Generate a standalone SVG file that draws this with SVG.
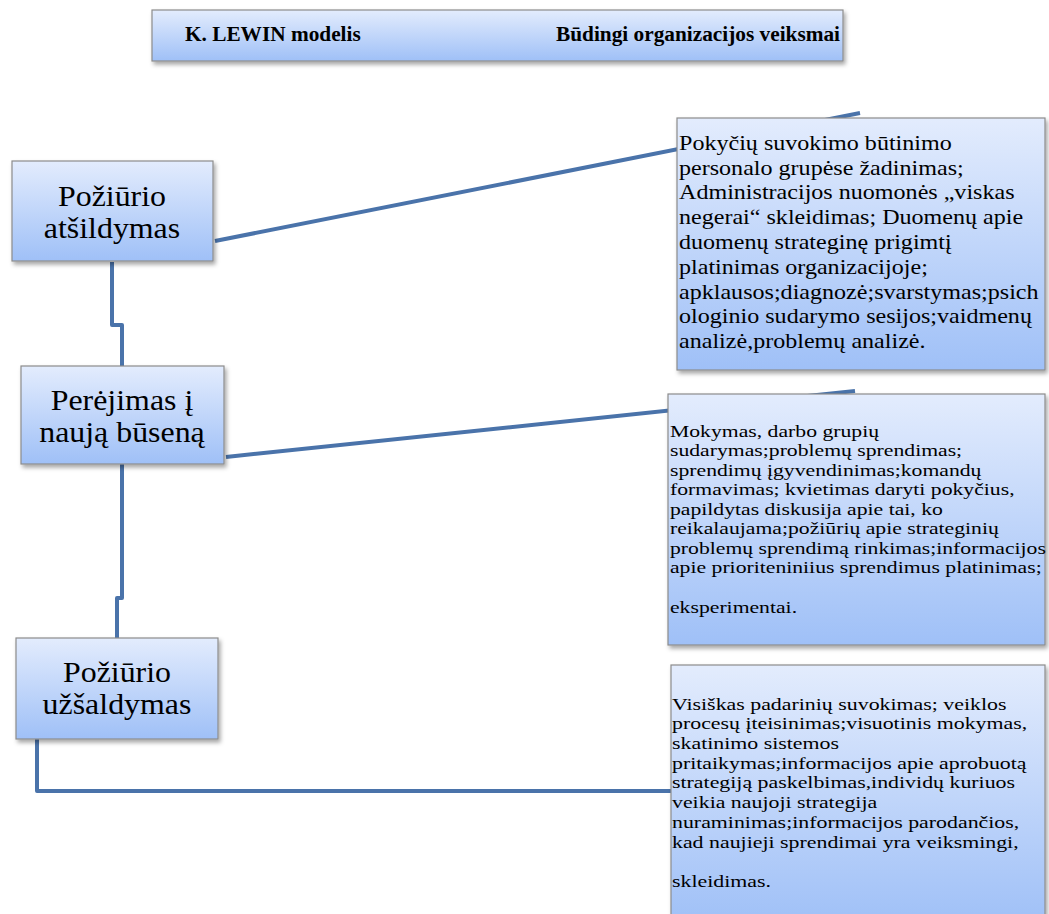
<svg xmlns="http://www.w3.org/2000/svg" width="1049" height="914" viewBox="0 0 1049 914">
<defs>
<linearGradient id="g" x1="0" y1="0" x2="0" y2="1">
<stop offset="0" stop-color="#e3ecfd"/>
<stop offset="1" stop-color="#9fc0f7"/>
</linearGradient>
<filter id="sh" x="-10%" y="-10%" width="125%" height="130%">
<feDropShadow dx="2" dy="3" stdDeviation="2" flood-color="#000" flood-opacity="0.35"/>
</filter>
</defs>
<style>
.box{fill:url(#g);stroke:#8c8c8c;stroke-width:1.2;filter:url(#sh)}
.con{fill:none;stroke:#4a73aa;stroke-width:4;stroke-linejoin:round}
.hd{font-family:"Liberation Serif",serif;font-weight:bold;font-size:21.3px;fill:#000}
.nd{font-family:"Liberation Serif",serif;font-size:29px;fill:#000;text-anchor:middle}
.ta{font-family:"Liberation Serif",serif;font-size:21.5px;fill:#000}
.tb{font-family:"Liberation Serif",serif;font-size:17.5px;fill:#000}
</style>
<g id="connectors">
<path class="con" d="M215,241 L860,113"/>
<path class="con" d="M226,457 L855,391"/>
<path class="con" d="M112,262 L112,325 L122,325 L122,366"/>
<path class="con" d="M122,464 L122,598 L117,598 L117,638"/>
<path class="con" d="M37,739 L37,791 L672,791"/>
</g>
<g id="header">
<rect class="box" x="152" y="10" width="691" height="51"/>
<text class="hd" x="185" y="41">K. LEWIN modelis</text>
<text class="hd" x="840" y="41" text-anchor="end">Būdingi organizacijos veiksmai</text>
</g>
<g id="n1">
<rect class="box" x="12" y="161" width="201" height="100"/>
<text class="nd" transform="translate(112,0) scale(1.1,1) translate(-112,0)"><tspan x="112" y="206">Požiūrio</tspan><tspan x="112" y="238">atšildymas</tspan></text>
</g>
<g id="n2">
<rect class="box" x="21" y="366" width="203" height="98"/>
<text class="nd" transform="translate(122,0) scale(1.1,1) translate(-122,0)"><tspan x="122" y="410">Perėjimas į</tspan><tspan x="122" y="442">naują būseną</tspan></text>
</g>
<g id="n3">
<rect class="box" x="16" y="638" width="202" height="101"/>
<text class="nd" transform="translate(117,0) scale(1.1,1) translate(-117,0)"><tspan x="117" y="682">Požiūrio</tspan><tspan x="117" y="714">užšaldymas</tspan></text>
</g>
<g id="a">
<rect class="box" x="677" y="118" width="368" height="252"/>
<text class="ta" transform="translate(679,0) scale(1.12,1) translate(-679,0)">
<tspan x="679" y="150">Pokyčių suvokimo būtinimo</tspan>
<tspan x="679" y="175">personalo grupėse žadinimas;</tspan>
<tspan x="679" y="199">Administracijos nuomonės „viskas</tspan>
<tspan x="679" y="224">negerai“ skleidimas; Duomenų apie</tspan>
<tspan x="679" y="249">duomenų strateginę prigimtį</tspan>
<tspan x="679" y="274">platinimas organizacijoje;</tspan>
<tspan x="679" y="299">apklausos;diagnozė;svarstymas;psich</tspan>
<tspan x="679" y="323">ologinio sudarymo sesijos;vaidmenų</tspan>
<tspan x="679" y="348">analizė,problemų analizė.</tspan>
</text>
</g>
<g id="b">
<rect class="box" x="668" y="394" width="377" height="251"/>
<text class="tb" transform="translate(670,0) scale(1.24,1) translate(-670,0)">
<tspan x="670" y="437">Mokymas, darbo grupių</tspan>
<tspan x="670" y="456">sudarymas;problemų sprendimas;</tspan>
<tspan x="670" y="476">sprendimų įgyvendinimas;komandų</tspan>
<tspan x="670" y="495">formavimas; kvietimas daryti pokyčius,</tspan>
<tspan x="670" y="515">papildytas diskusija apie tai, ko</tspan>
<tspan x="670" y="534">reikalaujama;požiūrių apie strateginių</tspan>
<tspan x="670" y="554">problemų sprendimą rinkimas;informacijos</tspan>
<tspan x="670" y="573">apie prioriteniniius sprendimus platinimas;</tspan>
<tspan x="670" y="613">eksperimentai.</tspan>
</text>
</g>
<g id="c">
<rect class="box" x="671" y="665" width="374" height="260"/>
<text class="tb" transform="translate(672,0) scale(1.25,1) translate(-672,0)">
<tspan x="672" y="710">Visiškas padarinių suvokimas; veiklos</tspan>
<tspan x="672" y="729">procesų įteisinimas;visuotinis mokymas,</tspan>
<tspan x="672" y="749">skatinimo sistemos</tspan>
<tspan x="672" y="769">pritaikymas;informacijos apie aprobuotą</tspan>
<tspan x="672" y="788">strategiją paskelbimas,individų kuriuos</tspan>
<tspan x="672" y="808">veikia naujoji strategija</tspan>
<tspan x="672" y="828">nuraminimas;informacijos parodančios,</tspan>
<tspan x="672" y="848">kad naujieji sprendimai yra veiksmingi,</tspan>
<tspan x="672" y="887">skleidimas.</tspan>
</text>
</g>
</svg>
